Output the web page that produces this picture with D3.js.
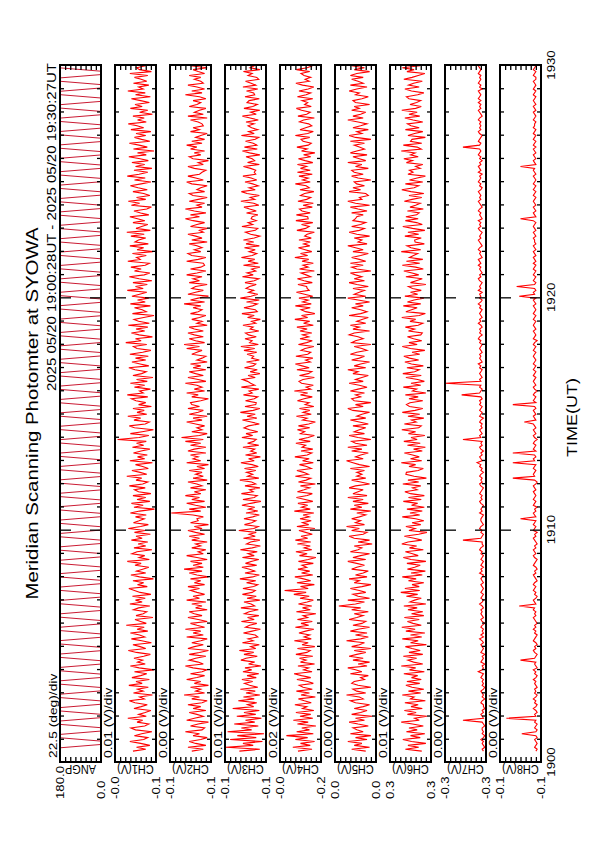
<!DOCTYPE html>
<html>
<head>
<meta charset="utf-8">
<script src="https://d3js.org/d3.v7.min.js"></script>
<style>
  body { margin: 0; background: #fff; }
  text { font-family: "Liberation Sans", Arial, sans-serif; fill: #000; }
</style>
</head>
<body>
<div id="chart"></div>
<script>
var svgWidth = 595;
var svgHeight = 842;

// panel layout (page is the landscape plot turned on its side)
var panelTop = 65, panelBottom = 762;
var panelStart = 60, panelPitch = 55, panelWidth = 41;

// ---- data ----
var timeTicks = [0, 10, 20, 30];              // minutes after 19:00
var timeTickLabels = ["1900", "1910", "1920", "1930"];
var headerText = "2025 05/20 19:00:28UT - 2025 05/20 19:30:27UT";

var channels = ["ANGP", "CH1(V)", "CH2(V)", "CH3(V)", "CH4(V)", "CH5(V)", "CH6(V)", "CH7(V)", "CH8(V)"];
var divTexts = ["22.5 (deg)/div", "0.01 (V)/div", "0.00 (V)/div", "0.01 (V)/div", "0.02 (V)/div",
                "0.00 (V)/div", "0.01 (V)/div", "0.00 (V)/div", "0.00 (V)/div"];
// full-scale limits (deg for ANGP, mV for the channels)
var rangeMax = [180, -20, -95, -60, -10, 40, 340, -270, -80];
var rangeMin = [0, -100, -127, -140, -170, 8, 260, -302, -112];
var maxLabels = ["180.0", "-0.0", "-0.1", "-0.1", "-0.0", "0.0", "0.3", "-0.3", "-0.1"];
var minLabels = ["0.0", "-0.1", "-0.1", "-0.1", "-0.2", "0.0", "0.3", "-0.3", "-0.1"];

var sampleStart = 28 / 60;     // first sample 19:00:28, minutes
var sampleStep = 5 / 60;       // channel samples every 5 s
var angStep = 8.65 / 60;       // mirror: sweep, dwell, sweep back, dwell

var angp = [180,180,0,0,180,180,0,0,180,180,0,0,180,180,0,0,180,180,0,0,180,180,0,0,
  180,180,0,0,180,180,0,0,180,180,0,0,180,180,0,0,180,180,0,0,180,180,0,0,
  180,180,0,0,180,180,0,0,180,180,0,0,180,180,0,0,180,180,0,0,180,180,0,0,
  180,180,0,0,180,180,0,0,180,180,0,0,180,180,0,0,180,180,0,0,180,180,0,0,
  180,180,0,0,180,180,0,0,180,180,0,0,180,180,0,0,180,180,0,0,180,180,0,0,
  180,180,0,0,180,180,0,0,180,180,0,0,180,180,0,0,180,180,0,0,180,180,0,0,
  180,180,0,0,180,180,0,0,180,180,0,0,180,180,0,0,180,180,0,0,180,180,0,0,
  180,180,0,0,180,180,0,0,180,180,0,0,180,180,0,0,180,180,0,0,180,180,0,0,
  180,180,0,0,180,180,0,0,180,180,0,0,180,180,0,0,180,180,0,0];

var ch1 = [-55,-80,-62,-88,-70,-49,-76,-84,-58,-72,-92,-60,
  -51,-78,-86,-63,-74,-45,-81,-66,-79,-90,-57,-71,
  -83,-59,-48,-77,-68,-93,-56,-75,-64,-85,-47,-73,
  -61,-87,-53,-70,-82,-58,-96,-67,-50,-79,-64,-74,
  -57,-76,-89,-62,-46,-80,-69,-55,-91,-72,-52,-78,
  -68,-50,-84,-63,-77,-42,-81,-70,-59,-94,-61,-75,
  -82,-56,-66,-88,-49,-73,-60,-79,-54,-90,-69,-58,
  -47,-83,-64,-76,-55,-95,-68,-51,-80,-62,-74,-86,
  -59,-71,-44,-87,-67,-78,-53,-63,-92,-57,-80,-65,
  -84,-52,-73,-61,-89,-58,-79,-46,-70,-85,-56,-67,
  -77,-60,-81,-50,-68,-97,-57,-75,-52,-88,-63,-80,
  -55,-90,-66,-58,-79,-48,-74,-84,-61,-72,-43,-82,
  -69,-53,-85,-74,-60,-93,-49,-78,-64,-83,-56,-71,
  -88,-54,-76,-62,-81,-25,-67,-86,-50,-73,-95,-58,
  -48,-79,-87,-57,-70,-45,-82,-63,-77,-55,-91,-66,
  -80,-61,-52,-84,-44,-75,-68,-89,-58,-78,-50,-83,
  -62,-94,-55,-72,-81,-59,-47,-86,-69,-53,-80,-60,
  -85,-49,-74,-90,-63,-56,-82,-41,-71,-60,-93,-67,
  -52,-78,-61,-84,-46,-87,-66,-57,-76,-96,-54,-81,
  -73,-58,-89,-50,-79,-64,-86,-53,-68,-82,-44,-75,
  -60,-83,-55,-92,-67,-48,-77,-88,-58,-71,-51,-79,
  -87,-45,-69,-62,-81,-54,-94,-63,-76,-49,-85,-59,
  -66,-80,-51,-77,-43,-89,-61,-72,-84,-55,-78,-64,
  -49,-86,-70,-57,-82,-91,-52,-68,-46,-80,-62,-88,
  -76,-55,-83,-65,-50,-71,-90,-58,-79,-44,-67,-84,
  -57,-92,-60,-78,-53,-85,-69,-47,-81,-64,-96,-56,
  -83,-67,-48,-88,-72,-58,-80,-61,-90,-51,-76,-63,
  -46,-81,-64,-77,-55,-93,-68,-84,-50,-73,-59,-87,
  -70,-52,-89,-60,-79,-45,-75,-66,-86,-56,-82,-71,
  -58,-84,-49,-91,-68,-62,-80,-43,-74,-88,-54,-77];

var ch2 = [-112,-121,-109,-123,-115,-110,-119,-124,-113,-118,-107,-120,
  -122,-111,-117,-125,-108,-114,-121,-116,-110,-123,-113,-119,
  -109,-120,-124,-112,-118,-106,-122,-115,-119,-111,-125,-114,
  -119,-108,-116,-122,-111,-120,-124,-113,-107,-121,-117,-110,
  -115,-123,-110,-118,-125,-109,-114,-121,-112,-119,-124,-108,
  -121,-113,-119,-107,-122,-116,-111,-124,-117,-109,-120,-114,
  -110,-124,-115,-120,-112,-123,-108,-118,-113,-122,-116,-111,
  -118,-109,-122,-114,-119,-111,-125,-116,-110,-120,-106,-121,
  -113,-120,-111,-124,-116,-108,-121,-117,-123,-112,-119,-115,
  -124,-112,-118,-110,-122,-115,-109,-120,-114,-125,-111,-117,
  -116,-121,-113,-96,-119,-110,-123,-115,-108,-122,-112,-118,
  -107,-119,-114,-123,-111,-120,-116,-109,-124,-113,-121,-115,
  -120,-110,-122,-116,-125,-108,-119,-113,-117,-111,-123,-109,
  -114,-123,-111,-119,-107,-121,-104,-118,-124,-112,-120,-116,
  -122,-115,-108,-120,-113,-124,-110,-117,-121,-109,-118,-112,
  -111,-119,-125,-112,-117,-108,-122,-114,-120,-116,-107,-123,
  -117,-109,-121,-115,-110,-123,-113,-119,-111,-124,-116,-120,
  -123,-112,-116,-120,-108,-118,-106,-122,-115,-110,-121,-114,
  -109,-121,-114,-110,-124,-116,-120,-112,-118,-123,-111,-117,
  -120,-113,-119,-106,-122,-111,-117,-125,-109,-115,-121,-112,
  -115,-124,-110,-118,-113,-120,-108,-116,-123,-111,-119,-122,
  -121,-108,-117,-123,-112,-109,-119,-114,-120,-116,-110,-124,
  -112,-120,-115,-109,-121,-118,-124,-111,-116,-122,-113,-107,
  -118,-111,-123,-114,-107,-120,-116,-122,-110,-117,-124,-113,
  -110,-122,-116,-119,-124,-112,-108,-121,-115,-109,-118,-120,
  -123,-114,-109,-121,-117,-125,-113,-110,-119,-114,-122,-111,
  -116,-108,-120,-112,-122,-115,-119,-124,-111,-118,-113,-121,
  -120,-117,-111,-124,-109,-121,-114,-118,-123,-110,-116,-119,
  -113,-123,-118,-107,-120,-112,-122,-116,-109,-121,-119,-114,
  -119,-110,-122,-117,-113,-124,-111,-120,-115,-108,-123,-116];

var ch3 = [-88,-128,-62,-115,-95,-133,-70,-121,-84,-136,-65,-112,
  -92,-125,-78,-118,-100,-131,-83,-120,-97,-127,-75,-116,
  -104,-122,-86,-117,-96,-128,-101,-119,-90,-124,-108,-98,
  -114,-93,-121,-103,-126,-95,-112,-99,-130,-106,-118,-91,
  -101,-123,-97,-116,-88,-120,-110,-127,-94,-115,-105,-124,
  -119,-96,-113,-129,-100,-108,-122,-92,-117,-104,-126,-98,
  -107,-125,-91,-118,-111,-97,-128,-103,-121,-94,-113,-119,
  -95,-116,-124,-102,-120,-89,-114,-127,-99,-118,-108,-93,
  -122,-100,-111,-126,-94,-117,-105,-123,-90,-113,-129,-102,
  -110,-128,-96,-119,-107,-121,-87,-116,-125,-98,-112,-120,
  -97,-114,-127,-101,-124,-106,-118,-93,-110,-130,-95,-117,
  -123,-92,-115,-108,-128,-99,-120,-112,-89,-126,-104,-114,
  -102,-120,-98,-125,-113,-91,-117,-106,-129,-100,-122,-110,
  -118,-95,-126,-104,-116,-121,-93,-114,-101,-124,-108,-97,
  -106,-127,-111,-94,-122,-103,-119,-90,-115,-128,-99,-120,
  -121,-100,-117,-124,-96,-113,-107,-126,-92,-118,-110,-104,
  -94,-119,-105,-128,-109,-123,-98,-115,-120,-102,-127,-112,
  -116,-103,-122,-97,-118,-91,-125,-108,-113,-99,-121,-106,
  -100,-126,-109,-115,-95,-120,-112,-129,-104,-117,-93,-123,
  -119,-97,-114,-123,-102,-127,-90,-111,-124,-106,-116,-101,
  -108,-121,-99,-117,-126,-94,-115,-103,-120,-112,-128,-96,
  -125,-105,-118,-92,-113,-122,-107,-119,-98,-127,-101,-116,
  -96,-117,-128,-110,-100,-119,-124,-93,-114,-105,-121,-111,
  -113,-124,-102,-121,-108,-97,-126,-116,-91,-118,-109,-127,
  -103,-92,-119,-107,-125,-114,-99,-122,-111,-95,-120,-117,
  -120,-110,-96,-127,-104,-118,-113,-101,-128,-108,-94,-123,
  -98,-122,-115,-100,-119,-126,-92,-117,-106,-124,-112,-105,
  -117,-101,-125,-109,-94,-121,-110,-128,-97,-114,-123,-103,
  -107,-127,-99,-118,-116,-102,-124,-95,-120,-111,-100,-126,
  -122,-105,-113,-96,-128,-109,-117,-104,-121,-93,-115,-119];

var ch4 = [-80,-135,-60,-128,-90,-145,-70,-118,-35,-140,-75,-125,
  -95,-150,-78,-120,-62,-138,-88,-130,-72,-142,-98,-115,
  -68,-132,-105,-82,-148,-92,-125,-74,-136,-100,-85,-140,
  -118,-76,-130,-94,-65,-135,-102,-122,-80,-145,-90,-112,
  -86,-138,-72,-115,-128,-78,-146,-96,-120,-66,-132,-104,
  -126,-84,-110,-142,-70,-122,-92,-136,-78,-118,-100,-150,
  -74,-128,-98,-134,-82,-116,-140,-88,-124,-64,-112,-28,
  -120,-90,-144,-76,-130,-102,-68,-138,-94,-126,-80,-114,
  -96,-140,-82,-120,-150,-86,-116,-72,-134,-104,-128,-78,
  -130,-70,-118,-92,-136,-110,-84,-146,-76,-122,-98,-132,
  -88,-124,-100,-142,-66,-128,-94,-118,-80,-138,-108,-74,
  -116,-136,-78,-104,-126,-90,-148,-82,-112,-130,-70,-120,
  -102,-76,-132,-114,-86,-140,-98,-124,-68,-116,-134,-92,
  -138,-96,-110,-72,-128,-84,-120,-144,-90,-106,-78,-126,
  -82,-122,-148,-98,-116,-74,-132,-100,-126,-86,-142,-108,
  -124,-78,-104,-136,-90,-118,-66,-130,-112,-140,-94,-84,
  -100,-144,-86,-120,-134,-76,-124,-96,-70,-128,-110,-138,
  -72,-118,-130,-92,-108,-142,-82,-114,-136,-88,-122,-98,
  -134,-88,-116,-76,-140,-102,-126,-68,-118,-94,-146,-110,
  -92,-128,-70,-132,-98,-120,-84,-138,-106,-74,-124,-116,
  -114,-80,-136,-104,-78,-130,-112,-92,-144,-86,-120,-100,
  -140,-96,-122,-68,-118,-90,-134,-108,-82,-126,-102,-128,
  -84,-132,-106,-116,-144,-76,-110,-124,-94,-138,-72,-120,
  -118,-74,-128,-96,-86,-136,-100,-140,-80,-114,-130,-90,
  -106,-142,-88,-124,-112,-70,-128,-98,-120,-84,-136,-78,
  -128,-90,-114,-78,-138,-108,-82,-130,-102,-146,-94,-116,
  -76,-120,-132,-100,-92,-126,-70,-118,-140,-88,-110,-134,
  -122,-86,-102,-144,-80,-114,-128,-94,-74,-132,-106,-118,
  -96,-138,-78,-112,-130,-84,-120,-142,-98,-72,-124,-108,
  -130,-104,-92,-126,-74,-116,-136,-88,-110,-128,-82,-120];

var ch5 = [16,27,13,25,19,30,15,24,12,28,18,23,
  26,14,22,29,17,24,11,27,20,15,25,18,
  13,24,28,18,21,31,16,23,26,12,22,27,
  25,17,20,14,28,19,24,30,15,22,13,26,
  18,29,23,16,25,12,27,21,17,31,20,14,
  24,15,28,22,13,26,19,16,29,23,18,25,
  14,27,20,37,24,17,30,13,22,26,16,21,
  28,19,12,25,21,29,15,24,18,14,27,23,
  17,23,30,16,26,20,13,28,22,19,25,11,
  22,13,25,29,18,15,27,21,31,17,24,20,
  27,21,16,23,12,28,19,25,14,26,18,30,
  15,26,22,18,29,24,13,20,27,16,23,19,
  23,17,28,13,21,26,31,18,24,20,14,27,
  19,30,15,24,27,12,22,29,17,25,21,16,
  26,14,21,28,16,23,19,13,26,30,18,24,
  12,25,27,20,24,17,28,22,15,21,29,18,
  24,19,14,26,22,30,16,25,20,13,27,21,
  17,28,23,15,19,25,12,27,24,18,22,29,
  25,13,26,21,28,16,23,19,14,29,20,15,
  20,27,18,24,13,22,30,16,25,21,17,26,
  14,23,29,17,25,19,24,28,12,23,27,18,
  28,16,21,27,20,14,26,18,24,30,15,22,
  19,25,13,23,29,21,17,27,20,16,26,24,
  23,18,27,15,22,28,13,24,30,19,21,14,
  16,29,20,26,17,23,25,12,22,27,18,25,
  27,14,24,19,30,16,21,26,15,28,23,17,
  21,25,17,28,12,24,29,19,23,14,26,20,
  15,22,30,18,26,20,16,27,21,25,13,24,
  26,19,14,24,21,29,23,15,28,18,22,27,
  18,28,23,13,25,17,27,20,16,24,29,19];

var ch6 = [278,310,284,305,270,298,315,281,300,272,308,287,
  303,275,296,318,283,292,268,306,289,312,277,299,
  285,311,271,300,293,316,280,304,274,297,309,282,
  307,279,298,286,313,273,302,290,318,276,294,305,
  288,314,276,303,281,297,310,269,300,285,316,278,
  300,272,309,291,317,279,295,306,283,312,274,298,
  276,305,287,313,270,301,292,279,308,286,319,282,
  311,283,297,274,304,289,316,277,299,271,306,292,
  281,307,270,299,314,285,296,310,275,302,288,317,
  305,278,293,312,284,268,303,291,309,280,297,274,
  290,316,282,301,277,307,273,298,286,314,279,304,
  273,300,311,287,296,280,315,284,305,269,293,309,
  308,285,275,303,290,318,278,300,283,296,312,277,
  294,271,306,281,313,287,299,272,304,290,317,284,
  279,312,289,298,274,305,282,316,291,276,302,308,
  301,276,303,285,310,270,296,288,314,280,299,273,
  286,309,279,315,292,283,307,275,298,311,284,302,
  313,282,297,272,300,316,287,303,278,294,306,280,
  277,304,292,310,285,276,301,290,317,283,271,309,
  298,287,314,280,306,293,274,311,286,300,279,296,
  304,270,300,289,277,309,284,297,313,275,290,316,
  282,308,276,302,294,286,318,280,299,307,273,291,
  292,279,311,284,305,272,296,315,277,288,310,285,
  309,288,283,306,275,301,290,281,312,297,278,303,
  274,299,317,293,284,310,276,302,287,271,305,295,
  302,281,290,276,308,296,313,285,300,291,318,279,
  287,314,278,300,297,271,305,292,276,310,283,299,
  306,276,295,311,282,303,287,317,290,279,301,288,
  280,303,308,286,274,298,311,283,304,294,277,313,
  297,285,272,307,293,316,281,300,289,305,275,296];

var ch7 = [-300,-299,-301,-300,-299,-300,-298,-300,-301,-299,-300,-299,
  -299,-301,-300,-299,-284,-300,-299,-298,-300,-299,-301,-300,
  -300,-298,-299,-301,-299,-300,-299,-298,-300,-301,-299,-300,
  -299,-300,-298,-299,-300,-296,-299,-300,-299,-301,-298,-299,
  -300,-299,-301,-298,-299,-300,-299,-298,-300,-299,-297,-300,
  -298,-300,-299,-300,-298,-299,-301,-299,-298,-300,-299,-298,
  -299,-298,-300,-299,-297,-299,-300,-298,-299,-300,-298,-299,
  -300,-299,-298,-300,-299,-298,-299,-300,-297,-299,-298,-300,
  -298,-299,-300,-298,-299,-300,-298,-299,-297,-298,-300,-299,
  -299,-284,-298,-299,-300,-298,-299,-297,-298,-300,-299,-298,
  -298,-299,-300,-297,-299,-298,-299,-300,-298,-297,-299,-298,
  -299,-297,-298,-299,-300,-298,-297,-299,-298,-299,-297,-298,
  -300,-298,-299,-297,-298,-295,-299,-298,-297,-299,-298,-300,
  -298,-297,-299,-298,-299,-284,-298,-297,-299,-298,-297,-299,
  -298,-299,-297,-298,-300,-297,-298,-299,-297,-298,-299,-297,
  -298,-297,-299,-298,-283,-297,-298,-299,-297,-298,-270,-298,
  -297,-299,-298,-297,-298,-299,-297,-298,-296,-299,-298,-297,
  -298,-297,-299,-298,-297,-298,-299,-297,-298,-296,-297,-299,
  -297,-298,-297,-299,-298,-296,-298,-297,-299,-298,-297,-298,
  -299,-297,-298,-296,-298,-299,-297,-298,-297,-299,-296,-298,
  -297,-298,-299,-297,-296,-298,-297,-299,-298,-297,-298,-296,
  -298,-297,-296,-299,-298,-297,-298,-296,-297,-299,-298,-297,
  -296,-298,-297,-298,-299,-297,-296,-298,-297,-298,-296,-299,
  -298,-297,-298,-296,-297,-299,-298,-297,-296,-298,-297,-298,
  -297,-296,-298,-299,-297,-298,-296,-297,-298,-297,-299,-296,
  -298,-297,-296,-298,-297,-299,-297,-298,-296,-297,-298,-297,
  -284,-297,-298,-296,-297,-298,-299,-297,-296,-298,-297,-298,
  -297,-298,-296,-297,-299,-298,-297,-296,-298,-297,-298,-296,
  -298,-296,-297,-298,-297,-296,-299,-297,-298,-296,-297,-298,
  -297,-298,-296,-297,-298,-297,-296,-298,-297,-299,-296,-297];

var ch8 = [-108,-109,-107,-108,-109,-108,-107,-109,-108,-97,-108,-109,
  -107,-108,-109,-107,-108,-85,-108,-107,-109,-108,-106,-108,
  -109,-107,-108,-106,-108,-109,-107,-108,-107,-109,-108,-107,
  -108,-106,-108,-109,-107,-108,-106,-109,-108,-107,-108,-96,
  -107,-108,-109,-107,-106,-108,-107,-109,-108,-106,-107,-108,
  -109,-107,-108,-106,-108,-107,-109,-108,-107,-106,-108,-107,
  -108,-106,-107,-95,-108,-107,-106,-108,-109,-107,-108,-106,
  -107,-108,-106,-107,-109,-108,-107,-106,-108,-107,-109,-108,
  -106,-107,-108,-109,-107,-106,-108,-107,-106,-108,-107,-109,
  -108,-107,-106,-108,-107,-109,-106,-107,-108,-106,-107,-108,
  -96,-108,-107,-106,-108,-107,-109,-106,-107,-108,-106,-107,
  -108,-107,-106,-108,-107,-106,-108,-109,-107,-90,-107,-106,
  -107,-108,-106,-107,-108,-90,-107,-106,-108,-107,-90,-108,
  -106,-107,-108,-106,-107,-109,-107,-106,-108,-107,-106,-108,
  -107,-106,-99,-108,-107,-106,-108,-107,-106,-108,-107,-90,
  -108,-106,-107,-108,-106,-107,-109,-107,-106,-108,-107,-106,
  -107,-108,-106,-107,-108,-106,-107,-108,-106,-107,-108,-107,
  -106,-107,-108,-106,-107,-108,-106,-107,-109,-106,-107,-108,
  -107,-106,-108,-107,-106,-107,-108,-106,-107,-108,-106,-107,
  -108,-107,-106,-108,-107,-106,-108,-95,-107,-106,-108,-107,
  -93,-107,-108,-106,-107,-108,-106,-107,-108,-106,-107,-108,
  -106,-108,-107,-106,-108,-107,-106,-108,-107,-106,-108,-107,
  -107,-106,-108,-107,-106,-108,-107,-106,-107,-108,-106,-96,
  -108,-107,-106,-108,-107,-106,-108,-107,-106,-107,-108,-106,
  -107,-108,-106,-107,-108,-106,-107,-108,-107,-106,-108,-107,
  -106,-107,-96,-108,-107,-106,-108,-107,-106,-108,-107,-106,
  -108,-106,-107,-108,-106,-107,-108,-106,-107,-108,-106,-107,
  -107,-108,-106,-107,-108,-107,-106,-108,-107,-106,-108,-107,
  -106,-107,-108,-106,-107,-108,-106,-107,-108,-107,-106,-108,
  -108,-106,-107,-108,-106,-107,-108,-106,-107,-106,-108,-107];

var series = [angp, ch1, ch2, ch3, ch4, ch5, ch6, ch7, ch8];

// ---- drawing ----
var svg = d3.select("#chart")
  .append("svg")
  .attr("width", svgWidth)
  .attr("height", svgHeight)
  .style("background", "#fff");

// the plot is stretched 1.2x along the page height, text included
function textAt(x, y, angle) {
  return `translate(${x},${y}) scale(1,1.2) rotate(${angle})`;
}

var yTime = d3.scaleLinear().domain([0, 30]).range([panelBottom, panelTop]);

svg.append("defs").append("clipPath")
  .attr("id", "panelClip")
  .append("rect")
  .attr("x", 0).attr("y", panelTop)
  .attr("width", panelWidth).attr("height", panelBottom - panelTop);

channels.forEach(function(name, i) {
  var left = panelStart + i * panelPitch;
  var g = svg.append("g").attr("transform", `translate(${left},0)`);

  var xVal = d3.scaleLinear()
    .domain([rangeMax[i], rangeMin[i]])
    .range([0, panelWidth]);

  var step = i === 0 ? angStep : sampleStep;
  var line = d3.line()
    .x(d => xVal(d))
    .y((d, k) => yTime(sampleStart + k * step));

  g.append("path")
    .datum(series[i])
    .attr("clip-path", "url(#panelClip)")
    .attr("fill", "none")
    .attr("stroke", i === 0 ? "#c4001c" : "#ff0000")
    .attr("stroke-width", i === 0 ? 0.9 : 1.1)
    .attr("d", line);

  // minute ticks on both long edges, 10-minute ticks longer
  var minuteTicks = d3.range(1, 30).filter(m => m % 10 !== 0);
  [["left", 0], ["right", panelWidth]].forEach(function(side) {
    var axis = side[0] === "left" ? d3.axisLeft(yTime) : d3.axisRight(yTime);
    g.append("g")
      .attr("transform", `translate(${side[1]},0)`)
      .call(axis.tickValues(minuteTicks).tickSize(-4).tickFormat(""))
      .call(s => s.select(".domain").remove());
    var axisMajor = side[0] === "left" ? d3.axisLeft(yTime) : d3.axisRight(yTime);
    g.append("g")
      .attr("transform", `translate(${side[1]},0)`)
      .call(axisMajor.tickValues([10, 20]).tickSize(-11).tickFormat(""))
      .call(s => s.select(".domain").remove());
  });

  // division ticks on the short edges
  var divs = d3.range(1, 8).map(k => rangeMax[i] + k * (rangeMin[i] - rangeMax[i]) / 8);
  g.append("g")
    .attr("transform", `translate(0,${panelTop})`)
    .call(d3.axisTop(xVal).tickValues(divs).tickSize(-5).tickFormat(""))
    .call(s => s.select(".domain").remove());
  g.append("g")
    .attr("transform", `translate(0,${panelBottom})`)
    .call(d3.axisBottom(xVal).tickValues(divs).tickSize(-5).tickFormat(""))
    .call(s => s.select(".domain").remove());

  g.selectAll(".tick line").attr("stroke", "#000").attr("stroke-width", 1.3);

  // frame
  g.append("rect")
    .attr("x", 0).attr("y", panelTop)
    .attr("width", panelWidth).attr("height", panelBottom - panelTop)
    .attr("fill", "none")
    .attr("stroke", "#000")
    .attr("stroke-width", 2);

  // scale per division
  g.append("text")
    .attr("transform", textAt(-3, panelBottom - 4, -90))
    .attr("font-size", 11.5)
    .text(divTexts[i]);

  // channel name (upside down) and full-scale values
  g.append("text")
    .attr("transform", textAt(panelWidth / 2, panelBottom + 3, 180))
    .attr("text-anchor", "middle")
    .attr("font-size", 11)
    .text(name);

  g.append("text")
    .attr("transform", textAt(4, 799, -90))
    .attr("font-size", 11)
    .text(maxLabels[i]);
  g.append("text")
    .attr("transform", textAt(panelWidth + 4, 799, -90))
    .attr("font-size", 11)
    .text(minLabels[i]);
});

// time labels
timeTicks.forEach(function(m, k) {
  svg.append("text")
    .attr("transform", textAt(555, yTime(m), -90))
    .attr("text-anchor", "middle")
    .attr("font-size", 11)
    .text(timeTickLabels[k]);
});

svg.append("text")
  .attr("transform", textAt(577, (panelTop + panelBottom) / 2 + 4, -90))
  .attr("text-anchor", "middle")
  .attr("font-size", 15)
  .text("TIME(UT)");

svg.append("text")
  .attr("transform", textAt(56, panelTop - 2, -90))
  .attr("text-anchor", "end")
  .attr("font-size", 12.5)
  .text(headerText);

svg.append("text")
  .attr("transform", textAt(38, (panelTop + panelBottom) / 2, -90))
  .attr("text-anchor", "middle")
  .attr("font-size", 17)
  .text("Meridian Scanning Photomter at SYOWA");
</script>
</body>
</html>
